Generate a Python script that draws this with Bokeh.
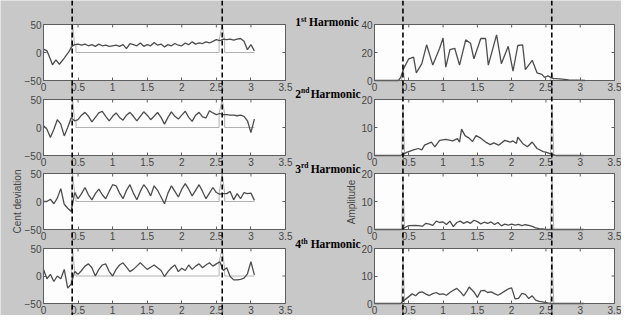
import numpy as np
from bokeh.plotting import figure
from bokeh.models import Range1d, Span, Label, FixedTicker, NumeralTickFormatter, LinearAxis
from bokeh.embed import file_html
from bokeh.resources import INLINE

# ---------------- data ----------------
XTICKS = [0, 0.5, 1, 1.5, 2, 2.5, 3, 3.5]
LEFT_YLIM = (-50, 50)
LEFT_YTICKS = [-50, 0, 50]
RIGHT_YLIM = [(0, 40), (0, 20), (0, 20), (0, 20)]
RIGHT_YTICKS = [[0, 20, 40], [0, 10, 20], [0, 10, 20], [0, 10, 20]]
MARKERS = [0.415, 2.585]          # vertical dashed boundaries (s)

STEP_X = [round(0.05 * i, 2) for i in range(62)]   # 0 .. 3.05 s

L1_X = [0, .05, .1, .13, .18, .23, .3, .37, .41, .45, .5, .55, .6, .65, .7, .75, .8, .85, .9, .95,
        1.0, 1.05, 1.1, 1.15, 1.2, 1.25, 1.3, 1.35, 1.4, 1.45, 1.5, 1.55, 1.6, 1.65, 1.7, 1.75, 1.8,
        1.85, 1.9, 1.95, 2.0, 2.05, 2.1, 2.15, 2.2, 2.25, 2.3, 2.35, 2.4, 2.45, 2.5, 2.55, 2.6, 2.65,
        2.7, 2.75, 2.8, 2.85, 2.9, 2.95, 3.0, 3.05]
L1_Y = [6, 3, -12, -22, -13, -21, -10, 2, 11, 14, 15, 13, 15, 12, 14, 11, 15, 12, 13, 11,
        12, 13, 11, 14, 7, 16, 14, 12, 17, 11, 14, 12, 18, 13, 15, 10, 14,
        12, 16, 13, 12, 17, 14, 19, 15, 17, 16, 19, 17, 20, 23, 21, 24, 23,
        24, 22, 24, 25, 20, 5, 14, 3]
L2_Y = [3, -3, -18, -3, 14, 6, -15, 0, 17, 12, 14, 22, 27, 20, 10, 18, 26, 29, 20, 12,
        20, 26, 18, 13, 22, 27, 20, 12, 20, 28, 22, 14, 20, 27, 18, 6, 18, 28, 20, 15,
        22, 29, 18, 11, 22, 27, 19, 17, 30, 26, 23, 25, 23, 23, 22, 22, 21, 22, 20, 12, -9, 15]
L3_Y = [0, 0, 4, -4, 6, 23, -5, -12, -18, 16, 5, 14, 25, 12, 3, 14, 22, 12, 5, 18,
        30, 28, 15, 5, 20, 30, 15, 3, 18, 30, 22, 10, 28, 20, 8, -4, 15, 28, 18, 8,
        22, 32, 22, 10, 20, 30, 18, 5, 15, 25, 16, 13, 14, 14, 18, 3, 14, 5, 16, 14, 15, 2]
L4_Y = [12, -5, 3, -10, 0, -5, 12, -22, -15, 8, 3, 10, 18, 22, 15, 0, 12, 20, 22, 8,
        0, 12, 20, 24, 16, 8, 12, 18, 24, 18, 12, 16, 20, 15, 10, -1, 8, 15, 20, 8,
        14, 10, 20, 12, 18, 22, 15, 20, 24, 18, 22, 26, 10, 15, -1, -7, -7, -6, -4, 4, 26, 2]

SEG_X = [0.40, 0.42, 0.45, 0.47, 0.47, 2.54, 2.54, 2.585, 2.62, 2.62, 3.05]
SEG_Y = [
    [11, 50, 14, 14, 0, 0, 22, 50, 22, 0, 0],
    [17, 50, 12, 12, 0, 0, 25, 50, 24, 0, 0],
    [-18, 50, 16, 16, 0, 0, 14, 50, 15, 0, 0],
    [-15, 50, 8, 8, 0, 0, 26, 50, 12, 0, 0],
]

R1_X = [0, 0.35, 0.38, 0.43, 0.5, 0.57, 0.61, 0.69, 0.76, 0.85, 0.95, 1.0, 1.04, 1.1, 1.17, 1.24,
        1.33, 1.4, 1.45, 1.55, 1.62, 1.66, 1.78, 1.85, 1.95, 2.02, 2.09, 2.16, 2.2, 2.3, 2.37,
        2.44, 2.48, 2.53, 2.6, 2.74, 2.83, 3.07]
R1_Y = [0, 0, 2, 9, 15.5, 16.7, 5.5, 12, 25.5, 11, 23, 30.4, 9.5, 22, 23, 11,
        29, 26.6, 15.5, 30, 30, 11, 32.6, 12, 24.4, 6.7, 25, 25.5, 7.8, 14.4, 5.5,
        4.4, 2.2, 3.3, 1.5, 1, 0.4, 0]
R2_X = [0, 0.38, 0.40, 0.47, 0.57, 0.64, 0.69, 0.73, 0.83, 0.88, 0.95, 1.04, 1.14, 1.21, 1.24,
        1.27, 1.32, 1.38, 1.43, 1.48, 1.55, 1.62, 1.69, 1.74, 1.81, 1.9, 1.98, 2.02, 2.07, 2.09,
        2.16, 2.23, 2.3, 2.37, 2.46, 2.51, 2.58, 2.65, 3.05]
R2_Y = [0, 0, 0.2, 1.1, 2, 2.5, 2, 3.7, 4.8, 3.1, 5.4, 5.75, 5.2, 6, 4.8,
        9.4, 7.1, 6.2, 5, 7.1, 6.2, 4.8, 3.9, 4.5, 3.7, 5.4, 4.8, 5.2, 4.3, 6.6,
        4.3, 3.1, 4.8, 2.5, 1.4, 1.1, 0.5, 0, 0]
R3_X = [0, 0.4, 0.45, 0.5, 0.6, 0.7, 0.75, 0.8, 0.85, 0.9, 0.95, 1.0, 1.05, 1.1, 1.15, 1.2, 1.25,
        1.3, 1.35, 1.4, 1.45, 1.5, 1.55, 1.6, 1.65, 1.7, 1.75, 1.8, 1.85, 1.9, 1.95, 2.0, 2.05,
        2.1, 2.15, 2.2, 2.25, 2.3, 2.35, 2.4, 2.45, 2.5, 3.05]
R3_Y = [0, 0, 0.8, 1.4, 1.5, 1.2, 2.2, 1.9, 1.5, 3, 2.5, 2.7, 1.8, 3, 1, 2.5, 3,
        2.2, 2.8, 2.2, 3.3, 2.8, 2, 2.6, 2.2, 2.7, 1.8, 2.5, 1.3, 1.9, 1.6, 1.9, 1.6,
        1.8, 1.4, 1.7, 1.5, 1.1, 0.6, 0.3, 0.2, 0, 0]
R4_X = [0, 0.38, 0.45, 0.5, 0.55, 0.6, 0.65, 0.7, 0.75, 0.8, 0.85, 0.9, 0.95, 1.0, 1.05, 1.1,
        1.15, 1.2, 1.25, 1.3, 1.35, 1.38, 1.45, 1.5, 1.55, 1.6, 1.65, 1.7, 1.75, 1.8, 1.85, 1.9,
        1.95, 2.0, 2.05, 2.1, 2.15, 2.2, 2.25, 2.3, 2.35, 2.4, 2.45, 2.5, 2.55, 3.05]
R4_Y = [0, 0, 1.5, 2.5, 3.5, 2.8, 4, 4.2, 3.4, 2.9, 3.6, 4, 3.3, 3.5, 3, 4,
        4.8, 5.5, 4.3, 2.8, 4.6, 6, 4.2, 2.2, 4.6, 4.8, 4, 4.2, 3.6, 3, 3.7, 4.5,
        5.3, 5.7, 1.7, 1.9, 3.7, 3.3, 1.8, 2.8, 1.2, 0.8, 0.6, 0.3, 0, 0]

TRI1_X = [0.395, 0.415, 0.44]
TRI2_X = [2.565, 2.59, 2.615]
TRI1_H = [10, 17.5, 17, 17]
TRI2_H = [4.5, 17.5, 17, 17]

HARM_NUM = ["1", "2", "3", "4"]
HARM_SUP = ["st", "nd", "rd", "th"]
HARM_WORD = "Harmonic"
LEFT_YLABEL = "Cent deviation"
RIGHT_YLABEL = "Amplitude"

LEFT_CURVES = [(L1_X, L1_Y), (STEP_X, L2_Y), (STEP_X, L3_Y), (STEP_X, L4_Y)]
RIGHT_CURVES = [(R1_X, R1_Y), (R2_X, R2_Y), (R3_X, R3_Y), (R4_X, R4_Y)]

# ---------------- style / geometry (pixels of the 621x315 canvas) ----------------
W, H = 621, 315
BG = "#c8c8c8"
PLOT_BG = "#fdfdfd"
EDGE = "#5e5e5e"
CURVE = "#4d4d4d"
LIGHT = "#b2b2b2"
TXT = "#474747"
TICK_FONT = "Liberation Sans"
TICK_LEN = 3

COL_PX = {"L": (43, 285), "R": (374, 614)}                 # panel left / right edges
ROW_PX = [(24, 80), (99, 155), (173, 229), (248, 303)]    # panel top / bottom edges

p = figure(width=W, height=H, output_backend="svg", toolbar_location=None,
           x_range=Range1d(0, W), y_range=Range1d(H, 0),
           x_axis_location=None, y_axis_location=None, min_border=0)
p.background_fill_color = BG
p.border_fill_color = BG
p.outline_line_color = None
p.grid.visible = False


def x_range_for(px0, px1, lo=0.0, hi=3.5):
    k = (hi - lo) / (px1 - px0)
    return Range1d(lo - px0 * k, hi + (W - px1) * k), k


def y_range_for(top, bot, lo, hi):
    k = (hi - lo) / (bot - top)
    return Range1d(lo - (H - bot) * k, hi + top * k), k


xr, kx = {}, {}
for name, (a, b) in COL_PX.items():
    xr[name], kx[name] = x_range_for(a, b)
yr, ky = {}, {}
for i, (t, b) in enumerate(ROW_PX):
    yr[f"L{i}"], ky[f"L{i}"] = y_range_for(t, b, *LEFT_YLIM)
    yr[f"R{i}"], ky[f"R{i}"] = y_range_for(t, b, *RIGHT_YLIM[i])
p.extra_x_ranges = xr
p.extra_y_ranges = yr

AX = dict(major_tick_in=TICK_LEN, major_tick_out=0, minor_tick_line_color=None,
          axis_line_color=EDGE, major_tick_line_color=EDGE,
          major_label_text_font=TICK_FONT, major_label_text_font_size="10px",
          major_label_text_color=TXT, major_label_standoff=2)


def panel(xn, yn, ylim, yticks):
    ymin, ymax = ylim
    p.quad(left=[0], right=[3.5], bottom=[ymin], top=[ymax], x_range_name=xn, y_range_name=yn,
           fill_color=PLOT_BG, line_color=EDGE, line_width=1)
    xa = LinearAxis(x_range_name=xn, y_range_name=yn, fixed_location=ymin, bounds=(0, 3.5),
                    ticker=FixedTicker(ticks=XTICKS),
                    formatter=NumeralTickFormatter(format="0.[0]"), **AX)
    p.add_layout(xa, "below")
    ya = LinearAxis(x_range_name=xn, y_range_name=yn, fixed_location=0, bounds=(ymin, ymax),
                    ticker=FixedTicker(ticks=yticks), **AX)
    p.add_layout(ya, "left")
    # inward ticks on top and right edges (matlab box style)
    dy = TICK_LEN * ky[yn]
    dx = TICK_LEN * kx[xn]
    n = len(XTICKS)
    p.segment(x0=XTICKS, y0=[ymax] * n, x1=XTICKS, y1=[ymax - dy] * n,
              x_range_name=xn, y_range_name=yn, line_color=EDGE, line_width=1)
    m = len(yticks)
    p.segment(x0=[3.5] * m, y0=yticks, x1=[3.5 - dx] * m, y1=yticks,
              x_range_name=xn, y_range_name=yn, line_color=EDGE, line_width=1)


for i in range(4):
    ln, rn = f"L{i}", f"R{i}"
    panel("L", ln, LEFT_YLIM, LEFT_YTICKS)
    p.line(SEG_X, SEG_Y[i], x_range_name="L", y_range_name=ln, line_color=LIGHT, line_width=1)
    lx, ly = LEFT_CURVES[i]
    p.line(lx, ly, x_range_name="L", y_range_name=ln, line_color=CURVE, line_width=1.3)

    panel("R", rn, RIGHT_YLIM[i], RIGHT_YTICKS[i])
    p.line(TRI1_X, [0, TRI1_H[i], 0], x_range_name="R", y_range_name=rn,
           line_color=LIGHT, line_width=1)
    p.line(TRI2_X, [0, TRI2_H[i], 0], x_range_name="R", y_range_name=rn,
           line_color=LIGHT, line_width=1)
    rx, ry = RIGHT_CURVES[i]
    p.line(rx, ry, x_range_name="R", y_range_name=rn, line_color=CURVE, line_width=1.3)

# dashed boundaries, running through the whole column
for xn in ("L", "R"):
    for m in MARKERS:
        p.add_layout(Span(location=m, dimension="height", x_range_name=xn,
                          line_color="black", line_dash="5 3", line_width=1.6))

# texts (canvas pixel coordinates)
title_mid_y = [21.5, 93, 168, 243.5]
word_right = [358.3, 360, 360, 360]
for i in range(4):
    ym = title_mid_y[i]
    p.add_layout(Label(x=294.7, y=ym, text=HARM_NUM[i], text_align="left",
                       text_baseline="middle", text_font="Liberation Serif",
                       text_font_style="bold", text_font_size="11.5px", text_color="black"))
    p.add_layout(Label(x=300.5, y=ym - 3, text=HARM_SUP[i], text_align="left",
                       text_baseline="middle", text_font="Liberation Serif",
                       text_font_style="bold", text_font_size="7.5px", text_color="black"))
    p.add_layout(Label(x=word_right[i], y=ym, text=HARM_WORD, text_align="right",
                       text_baseline="middle", text_font="Liberation Serif",
                       text_font_style="bold", text_font_size="11.5px", text_color="black"))
p.add_layout(Label(x=16.6, y=201, text=LEFT_YLABEL, angle=np.pi / 2,
                   text_align="center", text_baseline="middle",
                   text_font=TICK_FONT, text_font_size="10px", text_color=TXT))
p.add_layout(Label(x=351, y=201.5, text=RIGHT_YLABEL, angle=np.pi / 2,
                   text_align="center", text_baseline="middle",
                   text_font=TICK_FONT, text_font_size="10px", text_color=TXT))

open("out.html", "w").write(file_html(p, INLINE))
